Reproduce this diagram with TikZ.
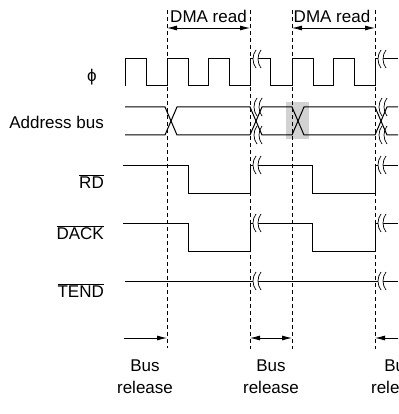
\documentclass[tikz,border=0pt]{standalone}
\usepackage{fontspec}
\setmainfont{Liberation Sans}
\usetikzlibrary{arrows.meta}
\tikzset{
  sig/.style={line width=1pt},
  guide/.style={line width=0.8pt, dash pattern=on 4pt off 3pt},
  dim/.style={line width=0.8pt},
  lbl/.style={inner sep=0pt, font=\fontsize{17}{22}\selectfont},
  brk/.pic={
    \fill[white] (1,-9) .. controls (-3,-4) and (-3,4) .. (1,9)
      -- (6,9) .. controls (2,4) and (2,-4) .. (6,-9) -- cycle;
    \draw[line width=0.7pt] (1,-9) .. controls (-3,-4) and (-3,4) .. (1,9);
    \draw[line width=0.7pt] (6,-9) .. controls (2,-4) and (2,4) .. (6,9);
  }
}
\begin{document}
\begin{tikzpicture}[x=1pt,y=-1pt,>={Latex[length=10pt,width=5pt]}]
  \clip (0,0) rectangle (398,414);
  % labels
  \node[lbl, anchor=base] (phi) at (92,82) {ϕ};
  \node[lbl, anchor=base east] (addr) at (104,129) {Address bus};
  \node[lbl, anchor=base east] (rd) at (104,188) {$\overline{\mbox{RD}}$};
  \node[lbl, anchor=base east] (dack) at (104,239) {$\overline{\mbox{DACK}}$};
  \node[lbl, anchor=base east] (tend) at (104,297) {$\overline{\mbox{TEND}}$};
  \node[lbl] (dma1) at (208.5,16) {DMA read};
  \node[lbl] (dma2) at (332,16) {DMA read};
  \node[lbl, align=center] (rel1) at (145,376.5) {Bus\\release};
  \node[lbl, align=center] (rel2) at (271,376.5) {Bus\\release};
  \node[lbl, align=center] (rel3) at (399,376.5) {Bus\\release};
  % highlighted bus change
  \fill[gray!35] (286,102) rectangle (309,139);
  % clock
  \draw[sig] (125,86) -- (125,59) -- (146,59) -- (146,86) -- (167,86) -- (167,59)
    -- (188,59) -- (188,86) -- (208,86) -- (208,59) -- (229,59) -- (229,86)
    -- (250,86) -- (250,59) -- (270,59) -- (270,86) -- (292,86) -- (292,59)
    -- (313,59) -- (313,86) -- (333,86) -- (333,59) -- (354,59) -- (354,86)
    -- (375,86) -- (375,59) -- (398,59);
  % RD and DACK
  \draw[sig] (123,165) -- (188,165) -- (188,193) -- (250,193) -- (250,165)
    -- (312,165) -- (312,193) -- (375,193) -- (375,165) -- (398,165);
  \draw[sig] (123,223) -- (188,223) -- (188,251) -- (250,251) -- (250,223)
    -- (312,223) -- (312,251) -- (375,251) -- (375,223) -- (398,223);
  % TEND
  \draw[sig] (125,281) -- (398,281);
  % breaks
  \draw (255,59) pic {brk};
  \draw (380,59) pic {brk};
  \draw (255,165) pic {brk};
  \draw (380,165) pic {brk};
  \draw (255,223) pic {brk};
  \draw (380,223) pic {brk};
  \draw (255,281) pic {brk};
  \draw (380,281) pic {brk};
  \draw (256,107) pic {brk};
  \draw (256,135) pic {brk};
  \draw (381,107) pic {brk};
  \draw (381,135) pic {brk};
  % address bus
  \draw[sig] (125,107) -- (165,107) -- (177,135) -- (250,135) -- (262,107)
    -- (292,107) -- (304,135) -- (375,135) -- (387,107) -- (398,107);
  \draw[sig] (125,135) -- (165,135) -- (177,107) -- (250,107) -- (262,135)
    -- (292,135) -- (304,107) -- (375,107) -- (387,135) -- (398,135);
  % guides
  \coordinate (t1) at (167,10);
  \coordinate (b1) at (167,348);
  \coordinate (t2) at (250,10);
  \coordinate (b2) at (250,349);
  \coordinate (t3) at (292,10);
  \coordinate (b3) at (292,349);
  \coordinate (t4) at (375,10);
  \coordinate (b4) at (375,349);
  \draw[guide] (t1) -- (b1);
  \draw[guide] (t2) -- (b2);
  \draw[guide] (t3) -- (b3);
  \draw[guide] (t4) -- (b4);
  % dimension arrows
  \coordinate (d1) at (167,28);
  \coordinate (d2) at (250,28);
  \coordinate (d3) at (292,28);
  \coordinate (d4) at (375,28);
  \draw[dim, <->] (d1) -- (d2);
  \draw[dim, <->] (d3) -- (d4);
  \coordinate (r0) at (124,338);
  \coordinate (r1) at (167,338);
  \coordinate (r2) at (250,338);
  \coordinate (r3) at (292,338);
  \coordinate (r4) at (375,338);
  \coordinate (r5) at (420,338);
  \draw[dim, ->] (r0) -- (r1);
  \draw[dim, <->] (r2) -- (r3);
  \draw[dim, ->] (r5) -- (r4);
\end{tikzpicture}
\end{document}
